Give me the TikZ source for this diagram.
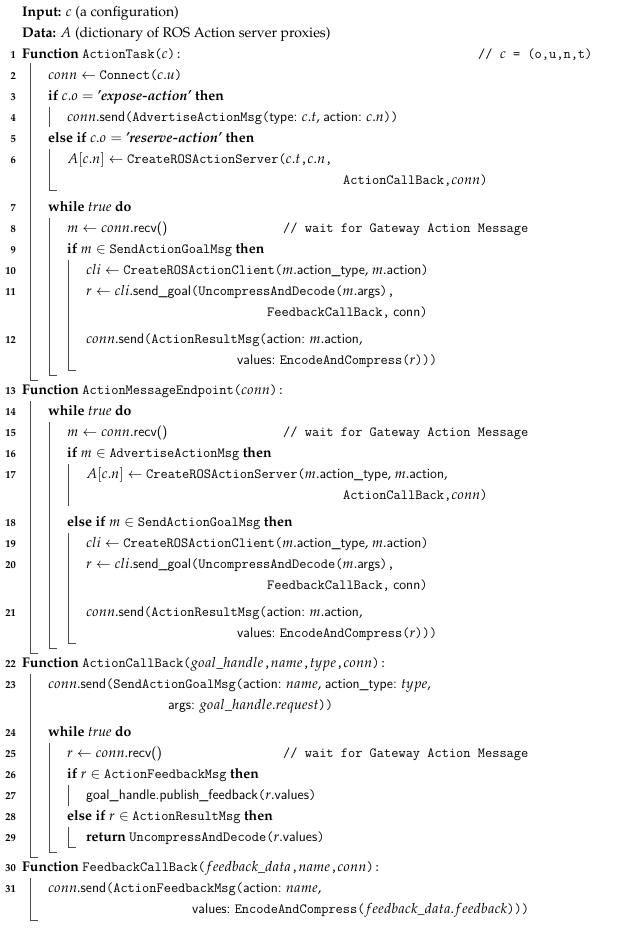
\documentclass[tikz,border=0pt]{standalone}
\usepackage[T1]{fontenc}
\usepackage{mathpazo}
\begin{document}
\begin{tikzpicture}[x=1pt,y=-1pt,
  txt/.style={anchor=base west,inner sep=0pt,font=\fontsize{14}{16}\selectfont},
  num/.style={anchor=base east,inner sep=0pt,font=\fontsize{10.5}{12}\selectfont\bfseries},
  bar/.style={draw=black!70,line width=0.6pt}]
\newcommand\kw[1]{\textbf{#1}}
\newcommand\fn[1]{{\fontencoding{TU}\fontfamily{lmtt}\selectfont #1}}
\newcommand\sfx[1]{{\fontencoding{TU}\fontfamily{lmss}\selectfont #1}}
\newcommand\cm[1]{\fn{// #1}}
\useasboundingbox (0,0) rectangle (623,929);
\def\Xa{22}\def\Xb{48}\def\Xc{67}\def\Xd{86}
% header
\node[txt] (in) at (\Xa,16) {\kw{Input:} $c$ (a configuration)};
\node[txt] (da) at (\Xa,37) {\kw{Data:} $A$ (dictionary of ROS Action server proxies)};
% line numbers
\foreach \n/\y in {1/54,2/75,3/96,4/117,5/138,6/159,7/207,8/228,9/249,10/270,11/291,12/339,13/390,14/411,15/432,16/453,17/474,18/522,19/543,20/564,21/612,22/663,23/684,24/732,25/753,26/774,27/795,28/816,29/837,30/867,31/888}
  \node[num] (n\n) at (16,\y+4) {\n};
% lines
\node[txt] (l1) at (\Xa,58) {\kw{Function} \fn{ActionTask(}$c$\fn{):}};
\node[txt] (c1) at (478,58) {\fn{// }$c$\fn{ = (o,u,n,t)}};
\node[txt] (l2) at (\Xb,79) {$conn \leftarrow$ \fn{Connect(}$c.u$\fn{)}};
\node[txt] (l3) at (\Xb,100) {\kw{if} $c.o =$ \textbf{\textit{'expose-action'}} \kw{then}};
\node[txt] (l4) at (\Xc,121) {$conn$.\sfx{send}\fn{(AdvertiseActionMsg(}\sfx{type:} $c.t$, \sfx{action:} $c.n$\fn{))}};
\node[txt] (l5) at (\Xb,142) {\kw{else if} $c.o =$ \textbf{\textit{'reserve-action'}} \kw{then}};
\node[txt] (l6) at (\Xc,163) {$A[c.n] \leftarrow$ \fn{CreateROSActionServer(}$c.t$\fn{,}$c.n$\fn{,}};
\node[txt] (l6c) at (343,184) {\fn{ActionCallBack,}$conn$\fn{)}};
\node[txt] (l7) at (\Xb,211) {\kw{while} \textit{true} \kw{do}};
\node[txt] (l8) at (\Xc,232) {$m \leftarrow conn$.\sfx{recv()}};
\node[txt] (c8) at (283,232) {\cm{wait for Gateway Action Message}};
\node[txt] (l9) at (\Xc,253) {\kw{if} $m \in$ \fn{SendActionGoalMsg} \kw{then}};
\node[txt] (l10) at (\Xd,274) {$cli \leftarrow$ \fn{CreateROSActionClient(}$m$.\sfx{action\_type}, $m$.\sfx{action}\fn{)}};
\node[txt] (l11) at (\Xd,295) {$r \leftarrow cli$.\sfx{send\_goal}\fn{(UncompressAndDecode(}$m$.\sfx{args}\fn{),}};
\node[txt] (l11c) at (267,316) {\fn{FeedbackCallBack,} \sfx{conn}\fn{)}};
\node[txt] (l12) at (\Xd,343) {$conn$.\sfx{send}\fn{(ActionResultMsg(}\sfx{action:} $m$.\sfx{action},};
\node[txt] (l12c) at (237,364) {\sfx{values:} \fn{EncodeAndCompress(}$r$\fn{)))}};
\node[txt] (l13) at (\Xa,394) {\kw{Function} \fn{ActionMessageEndpoint(}$conn$\fn{):}};
\node[txt] (l14) at (\Xb,415) {\kw{while} \textit{true} \kw{do}};
\node[txt] (l15) at (\Xc,436) {$m \leftarrow conn$.\sfx{recv()}};
\node[txt] (c15) at (283,436) {\cm{wait for Gateway Action Message}};
\node[txt] (l16) at (\Xc,457) {\kw{if} $m \in$ \fn{AdvertiseActionMsg} \kw{then}};
\node[txt] (l17) at (\Xd,478) {$A[c.n] \leftarrow$ \fn{CreateROSActionServer(}$m$.\sfx{action\_type}, $m$.\sfx{action},};
\node[txt] (l17c) at (343,499) {\fn{ActionCallBack,}$conn$\fn{)}};
\node[txt] (l18) at (\Xc,526) {\kw{else if} $m \in$ \fn{SendActionGoalMsg} \kw{then}};
\node[txt] (l19) at (\Xd,547) {$cli \leftarrow$ \fn{CreateROSActionClient(}$m$.\sfx{action\_type}, $m$.\sfx{action}\fn{)}};
\node[txt] (l20) at (\Xd,568) {$r \leftarrow cli$.\sfx{send\_goal}\fn{(UncompressAndDecode(}$m$.\sfx{args}\fn{),}};
\node[txt] (l20c) at (267,589) {\fn{FeedbackCallBack,} \sfx{conn}\fn{)}};
\node[txt] (l21) at (\Xd,616) {$conn$.\sfx{send}\fn{(ActionResultMsg(}\sfx{action:} $m$.\sfx{action},};
\node[txt] (l21c) at (237,637) {\sfx{values:} \fn{EncodeAndCompress(}$r$\fn{)))}};
\node[txt] (l22) at (\Xa,667) {\kw{Function} \fn{ActionCallBack(}$goal\_handle$\fn{,}$name$\fn{,}$type$\fn{,}$conn$\fn{):}};
\node[txt] (l23) at (\Xb,688) {$conn$.\sfx{send}\fn{(SendActionGoalMsg(}\sfx{action:} $name$, \sfx{action\_type:} $type$,};
\node[txt] (l23c) at (168,709) {\sfx{args:} $goal\_handle.request$\fn{))}};
\node[txt] (l24) at (\Xb,736) {\kw{while} \textit{true} \kw{do}};
\node[txt] (l25) at (\Xc,757) {$r \leftarrow conn$.\sfx{recv()}};
\node[txt] (c25) at (283,757) {\cm{wait for Gateway Action Message}};
\node[txt] (l26) at (\Xc,778) {\kw{if} $r \in$ \fn{ActionFeedbackMsg} \kw{then}};
\node[txt] (l27) at (\Xd,799) {\sfx{goal\_handle.publish\_feedback}\fn{(}$r$.\sfx{values}\fn{)}};
\node[txt] (l28) at (\Xc,820) {\kw{else if} $r \in$ \fn{ActionResultMsg} \kw{then}};
\node[txt] (l29) at (\Xd,841) {\kw{return} \fn{UncompressAndDecode(}$r$.\sfx{values}\fn{)}};
\node[txt] (l30) at (\Xa,871) {\kw{Function} \fn{FeedbackCallBack(}$feedback\_data$\fn{,}$name$\fn{,}$conn$\fn{):}};
\node[txt] (l31) at (\Xb,892) {$conn$.\sfx{send}\fn{(ActionFeedbackMsg(}\sfx{action:} $name$,};
\node[txt] (l31c) at (192,913) {\sfx{values:} \fn{EncodeAndCompress(}$feedback\_data.feedback$\fn{)))}};
% block bars
\def\A{30}\def\B{49}\def\C{68}
\draw[bar] (\A,63) |- (\A+8,380);
\draw[bar] (\B,107) -- (\B,127);
\draw[bar] (\B,149) |- (\B+8,190);
\draw[bar] (\B,218) |- (\B+8,375);
\draw[bar] (\C,260) |- (\C+8,370);
\draw[bar] (\A,401) |- (\A+8,653);
\draw[bar] (\B,422) |- (\B+8,648);
\draw[bar] (\C,464) -- (\C,506);
\draw[bar] (\C,533) |- (\C+8,643);
\draw[bar] (\A,674) |- (\A+8,857);
\draw[bar] (\B,743) |- (\B+8,852);
\draw[bar] (\C,785) -- (\C,806);
\draw[bar] (\C,827) |- (\C+8,847);
\draw[bar] (\A,878) |- (\A+8,920);
\end{tikzpicture}
\end{document}
